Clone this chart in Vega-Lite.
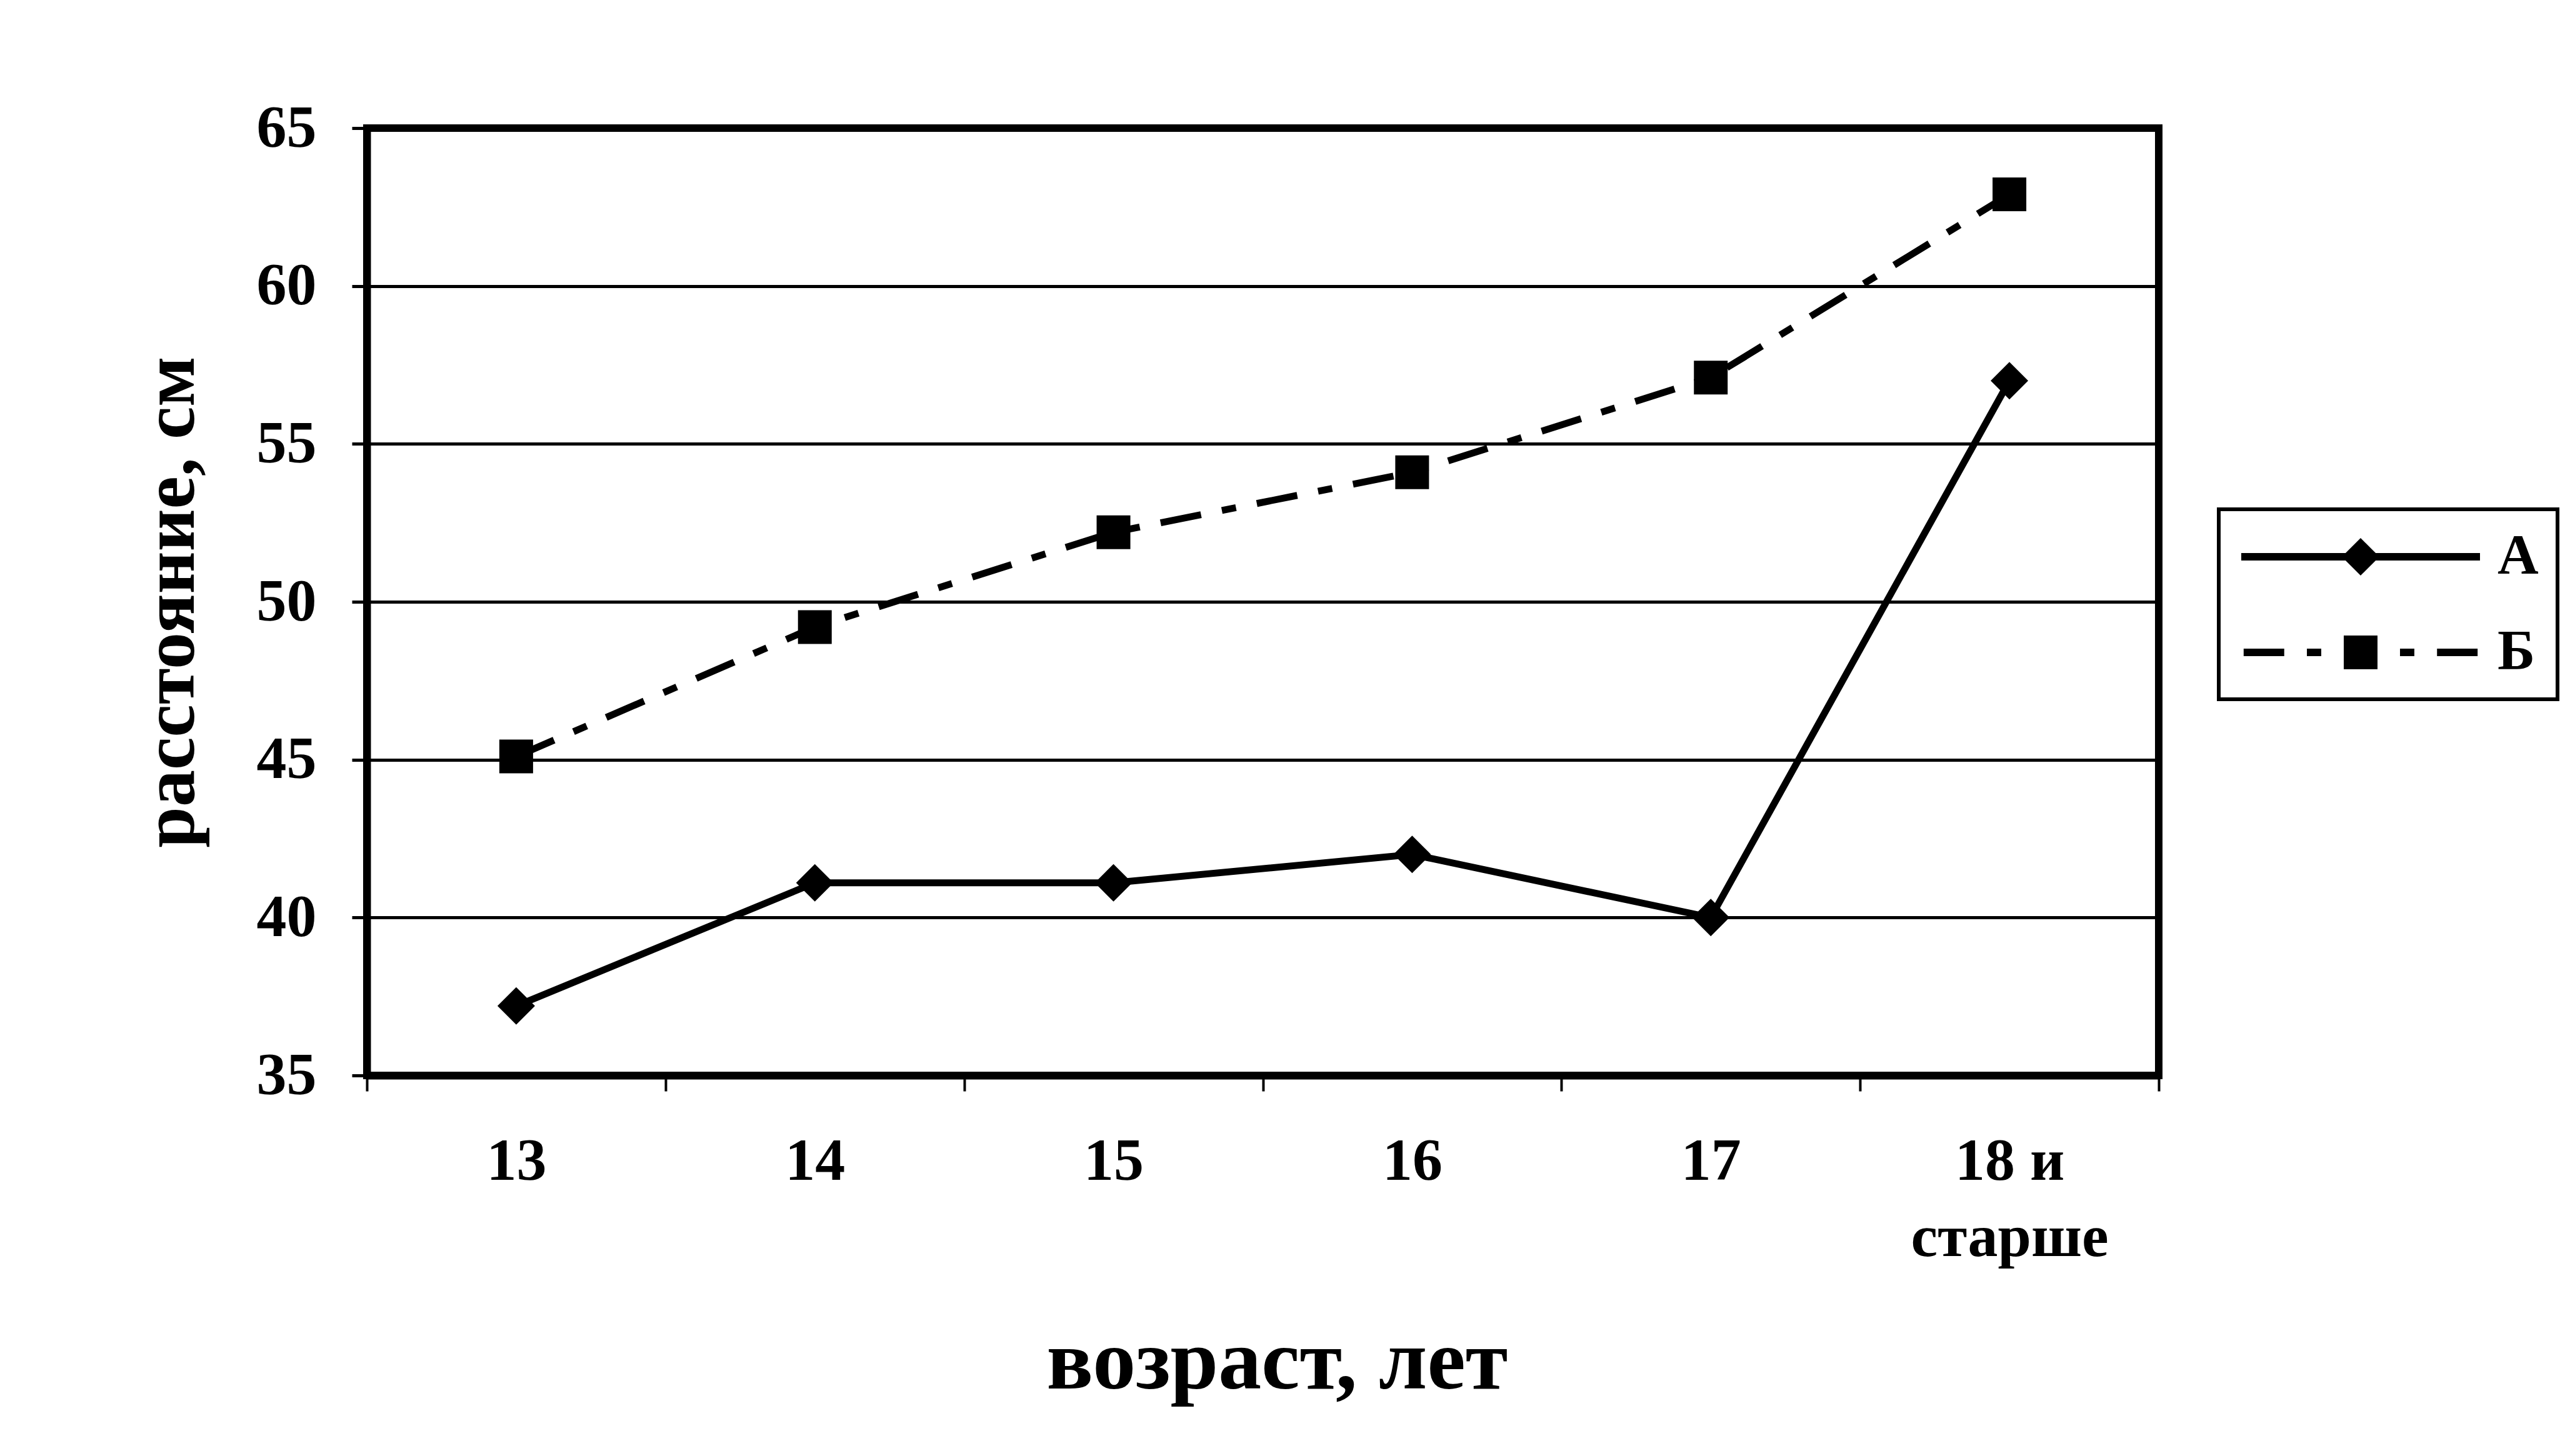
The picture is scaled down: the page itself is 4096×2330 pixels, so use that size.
{
  "$schema": "https://vega.github.io/schema/vega-lite/v6.json",
  "width": 2867,
  "height": 1516,
  "autosize": {"type": "none"},
  "padding": {"left": 587, "top": 205, "right": 642, "bottom": 609},
  "background": "white",
  "config": {
    "view": {"stroke": "black", "strokeWidth": 12},
    "font": "Liberation Serif",
    "legend": {"strokeWidth": 6}
  },
  "data": {
    "values": [
      {"age": "13", "series": "А", "value": 37.2},
      {"age": "14", "series": "А", "value": 41.1},
      {"age": "15", "series": "А", "value": 41.1},
      {"age": "16", "series": "А", "value": 42.0},
      {"age": "17", "series": "А", "value": 40.0},
      {"age": "18 и старше", "series": "А", "value": 57.0},
      {"age": "13", "series": "Б", "value": 45.1},
      {"age": "14", "series": "Б", "value": 49.2},
      {"age": "15", "series": "Б", "value": 52.2},
      {"age": "16", "series": "Б", "value": 54.1},
      {"age": "17", "series": "Б", "value": 57.1},
      {"age": "18 и старше", "series": "Б", "value": 62.9}
    ]
  },
  "encoding": {
    "x": {
      "field": "age", "type": "nominal", "sort": null,
      "scale": {"type": "band", "paddingInner": 0, "paddingOuter": 0},
      "axis": {
        "title": "возраст, лет",
        "titleFont": "Liberation Serif", "titleFontWeight": "bold", "titleFontSize": 138, "titleColor": "black",
        "titleX": 1456, "titleY": 500, "titleBaseline": "alphabetic",
        "labelFont": "Liberation Serif", "labelFontWeight": "bold", "labelFontSize": 96, "labelColor": "black",
        "labelAngle": 0, "labelPadding": 65, "labelLineHeight": 122, "labelOverlap": false, "labelLimit": 2000,
        "labelExpr": "indexof(datum.label, 'старше') >= 0 ? ['18 и', 'старше'] : datum.label",
        "tickBand": "extent", "tickSize": 25, "tickWidth": 4, "tickColor": "black",
        "domainColor": "black", "domainWidth": 12, "grid": false
      }
    },
    "y": {
      "field": "value", "type": "quantitative",
      "scale": {"domain": [35, 65], "nice": false, "zero": false},
      "axis": {
        "values": [35, 40, 45, 50, 55, 60, 65],
        "title": "расстояние, см",
        "titleFont": "Liberation Serif", "titleFontWeight": "bold", "titleFontSize": 118, "titleColor": "black",
        "titleX": -278, "titleBaseline": "alphabetic",
        "labelFont": "Liberation Serif", "labelFontWeight": "bold", "labelFontSize": 96, "labelColor": "black",
        "labelPadding": 57, "labelFlush": false, "labelOverlap": false,
        "tickSize": 24, "tickWidth": 5, "tickColor": "black",
        "domainColor": "black", "domainWidth": 12,
        "grid": true, "gridColor": "black", "gridWidth": 5, "gridOpacity": 1
      }
    }
  },
  "layer": [
    {
      "transform": [{"filter": "datum.series === 'А'"}],
      "mark": {"type": "line", "strokeWidth": 11},
      "encoding": {
        "color": {
          "field": "series", "type": "nominal",
          "scale": {"domain": ["А"], "range": ["black"]},
          "legend": {
            "title": "\u00a0", "titleOrient": "bottom", "titleFontSize": 92, "titlePadding": 61, "titleColor": "white",
            "orient": "none", "legendX": 2963, "legendY": 610,
            "padding": 30, "clipHeight": 92,
            "strokeColor": "black",
            "symbolType": "M-1,0L1,0M0,-0.113L0.113,0L0,0.113L-0.113,0ZM0,-0.045L0.045,0L0,0.045L-0.045,0Z",
            "symbolSize": 145924, "symbolStrokeWidth": 12, "symbolStrokeColor": "black", "symbolFillColor": "black",
            "labelOffset": 22,
            "labelFont": "Liberation Serif", "labelFontWeight": "bold", "labelFontSize": 91, "labelColor": "black"
          }
        }
      }
    },
    {
      "transform": [{"filter": "datum.series === 'Б'"}],
      "mark": {"type": "line", "strokeWidth": 11, "color": "black", "strokeDash": [66, 34, 23, 34]},
      "encoding": {
        "opacity": {
          "field": "series", "type": "nominal",
          "scale": {"domain": ["Б"], "range": [1]},
          "legend": {
            "title": null,
            "orient": "none", "legendX": 2963, "legendY": 763,
            "padding": 30, "clipHeight": 92,
            "symbolType": "M-0.98,0L-0.64,0M-0.45,0L-0.33,0M0.33,0L0.45,0M0.64,0L0.98,0M-0.11,-0.11L0.11,-0.11L0.11,0.11L-0.11,0.11ZM-0.06,-0.06L0.06,-0.06L0.06,0.06L-0.06,0.06ZM-0.02,-0.02L0.02,-0.02L0.02,0.02L-0.02,0.02Z",
            "symbolSize": 145924, "symbolStrokeWidth": 12, "symbolStrokeColor": "black", "symbolFillColor": "black",
            "symbolDash": [1, 0],
            "labelOffset": 22,
            "labelFont": "Liberation Serif", "labelFontWeight": "bold", "labelFontSize": 91, "labelColor": "black"
          }
        }
      }
    },
    {
      "transform": [{"filter": "datum.series === 'А'"}],
      "mark": {"type": "point", "shape": "diamond", "filled": true, "color": "black", "size": 3600, "opacity": 1}
    },
    {
      "transform": [{"filter": "datum.series === 'Б'"}],
      "mark": {"type": "point", "shape": "square", "filled": true, "color": "black", "size": 2916, "opacity": 1}
    }
  ]
}
